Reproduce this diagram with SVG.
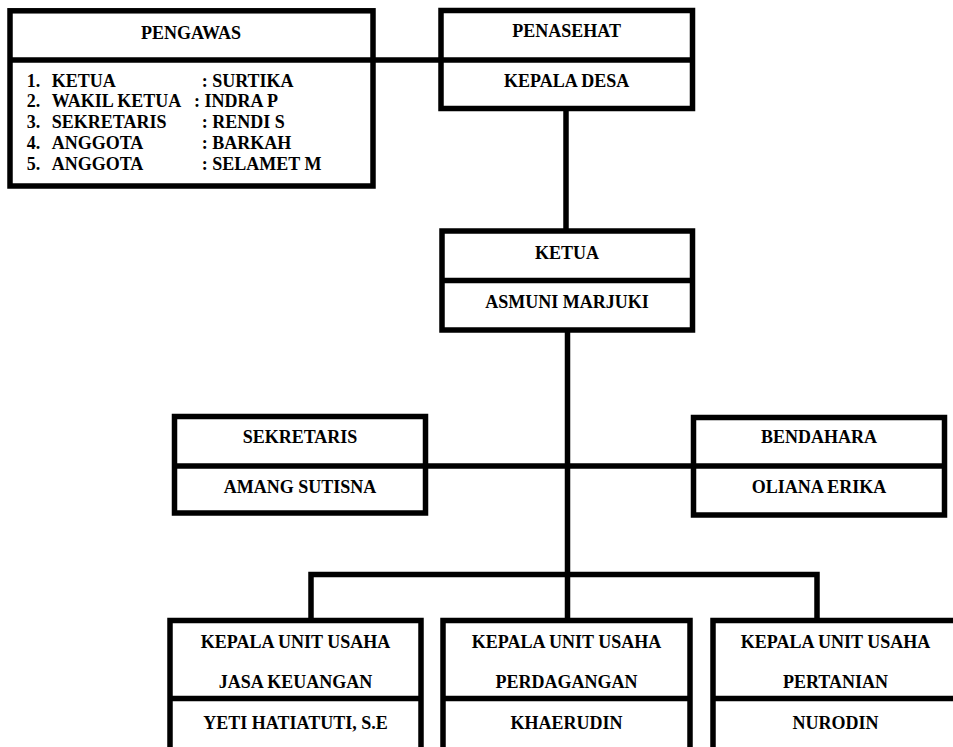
<svg xmlns="http://www.w3.org/2000/svg" width="953" height="747" viewBox="0 0 953 747">
<style>
.box{fill:#fff;stroke:#000;stroke-width:5.5}
.div{stroke:#000;stroke-width:5.5}
.c{stroke:#000;stroke-width:5.5;fill:none}
text{font-family:"Liberation Serif","Times New Roman",serif;font-weight:bold;font-size:18px;fill:#000}
.m{text-anchor:middle}
</style>
<rect width="953" height="747" fill="#fff"/>
<g id="connectors">
<line class="c" x1="373" y1="60" x2="441" y2="60"/>
<line class="c" x1="566" y1="108.5" x2="566" y2="231"/>
<line class="c" x1="567.5" y1="330" x2="567.5" y2="620.5"/>
<line class="c" x1="425.5" y1="466" x2="693.5" y2="466"/>
<polyline class="c" points="311,620.5 311,574.5 817,574.5 817,620.5"/>
</g>
<g id="pengawas">
<rect class="box" x="10" y="10.8" width="363" height="175.2"/>
<line class="div" x1="10" y1="60" x2="373" y2="60"/>
<text class="m" x="191" y="39">PENGAWAS</text>
<text x="26.7" y="86.5">1.</text><text x="51.7" y="86.5">KETUA</text><text x="201.7" y="86.5">: SURTIKA</text>
<text x="26.7" y="107.3">2.</text><text x="51.7" y="107.3">WAKIL KETUA</text><text x="194" y="107.3">: INDRA P</text>
<text x="26.7" y="128.2">3.</text><text x="51.7" y="128.2">SEKRETARIS</text><text x="201.7" y="128.2">: RENDI S</text>
<text x="26.7" y="149">4.</text><text x="51.7" y="149">ANGGOTA</text><text x="201.7" y="149">: BARKAH</text>
<text x="26.7" y="170">5.</text><text x="51.7" y="170">ANGGOTA</text><text x="201.7" y="170">: SELAMET M</text>
</g>
<g id="penasehat">
<rect class="box" x="441" y="10.5" width="251.5" height="98"/>
<line class="div" x1="441" y1="60" x2="692.5" y2="60"/>
<text class="m" x="566.7" y="37">PENASEHAT</text>
<text class="m" x="566.7" y="87">KEPALA DESA</text>
</g>
<g id="ketua">
<rect class="box" x="442" y="231" width="250.5" height="99"/>
<line class="div" x1="442" y1="280.5" x2="692.5" y2="280.5"/>
<text class="m" x="567" y="259">KETUA</text>
<text class="m" x="567" y="308">ASMUNI MARJUKI</text>
</g>
<g id="sekretaris">
<rect class="box" x="174.5" y="416.5" width="251" height="96.5"/>
<line class="div" x1="174.5" y1="466" x2="425.5" y2="466"/>
<text class="m" x="300" y="443">SEKRETARIS</text>
<text class="m" x="300" y="492.5">AMANG SUTISNA</text>
</g>
<g id="bendahara">
<rect class="box" x="693.5" y="417.5" width="251" height="97.5"/>
<line class="div" x1="693.5" y1="466" x2="944.5" y2="466"/>
<text class="m" x="819" y="443">BENDAHARA</text>
<text class="m" x="819" y="492.5">OLIANA ERIKA</text>
</g>
<g id="unit-jasa-keuangan">
<rect class="box" x="170" y="620.5" width="251" height="150"/>
<line class="div" x1="170" y1="698.5" x2="421" y2="698.5"/>
<text class="m" x="295.5" y="648">KEPALA UNIT USAHA</text>
<text class="m" x="295.5" y="687.5">JASA KEUANGAN</text>
<text class="m" x="295.5" y="729">YETI HATIATUTI, S.E</text>
</g>
<g id="unit-perdagangan">
<rect class="box" x="443" y="620.5" width="247" height="150"/>
<line class="div" x1="443" y1="698.5" x2="690" y2="698.5"/>
<text class="m" x="566.5" y="648">KEPALA UNIT USAHA</text>
<text class="m" x="566.5" y="687.5">PERDAGANGAN</text>
<text class="m" x="566.5" y="729">KHAERUDIN</text>
</g>
<g id="unit-pertanian">
<rect class="box" x="713" y="620.5" width="246" height="150"/>
<line class="div" x1="713" y1="698.5" x2="959" y2="698.5"/>
<text class="m" x="835.5" y="648">KEPALA UNIT USAHA</text>
<text class="m" x="835.5" y="687.5">PERTANIAN</text>
<text class="m" x="835.5" y="729">NURODIN</text>
</g>
</svg>
